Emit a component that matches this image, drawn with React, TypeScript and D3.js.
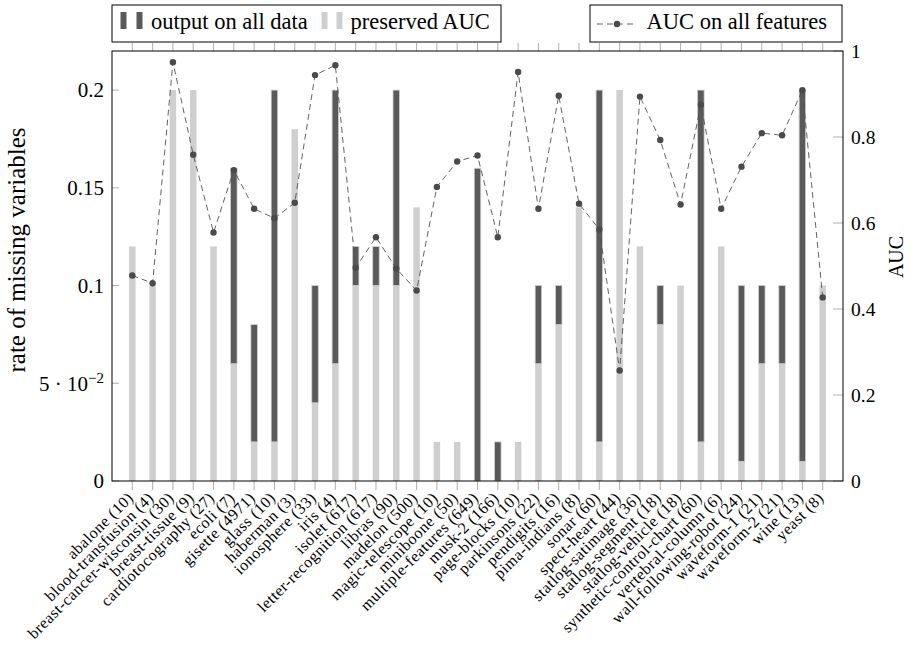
import React, { useEffect, useRef } from 'react';
import * as d3 from 'd3';

// Datasets (number of features in brackets)
const datasets = [
  'abalone (10)', 'blood-transfusion (4)', 'breast-cancer-wisconsin (30)', 'breast-tissue (9)',
  'cardiotocography (27)', 'ecoli (7)', 'gisette (4971)', 'glass (10)', 'haberman (3)',
  'ionosphere (33)', 'iris (4)', 'isolet (617)', 'letter-recognition (617)', 'libras (90)',
  'madelon (500)', 'magic-telescope (10)', 'miniboone (50)', 'multiple-features (649)',
  'musk-2 (166)', 'page-blocks (10)', 'parkinsons (22)', 'pendigits (16)', 'pima-indians (8)',
  'sonar (60)', 'spect-heart (44)', 'statlog-satimage (36)', 'statlog-segment (18)',
  'statlog-vehicle (18)', 'synthetic-control-chart (60)', 'vertebral-column (6)',
  'wall-following-robot (24)', 'waveform-1 (21)', 'waveform-2 (21)', 'wine (13)', 'yeast (8)'
];

// stacked bars: light part first, dark part on top
const preservedAUC = [
  0.12, 0.10, 0.20, 0.20, 0.12, 0.06, 0.02, 0.02, 0.18, 0.04, 0.06, 0.10, 0.10, 0.10,
  0.14, 0.02, 0.02, 0.00, 0.00, 0.02, 0.06, 0.08, 0.14, 0.02, 0.20, 0.12, 0.08, 0.10,
  0.02, 0.12, 0.01, 0.06, 0.06, 0.01, 0.10
];
const outputOnAllData = [
  0.00, 0.00, 0.00, 0.00, 0.00, 0.10, 0.06, 0.18, 0.00, 0.06, 0.14, 0.02, 0.02, 0.10,
  0.00, 0.00, 0.00, 0.16, 0.02, 0.00, 0.04, 0.02, 0.00, 0.18, 0.00, 0.00, 0.02, 0.00,
  0.18, 0.00, 0.09, 0.04, 0.04, 0.19, 0.00
];
const aucAllFeatures = [
  0.478, 0.460, 0.974, 0.759, 0.578, 0.723, 0.633, 0.611, 0.647, 0.944, 0.967, 0.496,
  0.567, 0.494, 0.443, 0.684, 0.743, 0.757, 0.567, 0.951, 0.633, 0.896, 0.645, 0.585,
  0.257, 0.894, 0.793, 0.643, 0.875, 0.633, 0.731, 0.809, 0.804, 0.909, 0.427
];

const leftTicks = [0, 0.05, 0.1, 0.15, 0.2];
const rightTicks = [0, 0.2, 0.4, 0.6, 0.8, 1];

const DARK = '#5a5a5a';
const LIGHT = '#cfcfcf';
const FONT = '"Liberation Serif", "Times New Roman", serif';

const App = () => {
  const svgRef = useRef<SVGSVGElement>(null);

  useEffect(() => {
    document.body.style.margin = '0';
    const svg = d3.select(svgRef.current);
    svg.selectAll('*').remove();

    const left = 112, right = 843, top = 51, bottom = 481;

    const x = d3.scalePoint<string>().domain(datasets).range([left, right]).padding(1);
    const yL = d3.scaleLinear().domain([0, 0.22]).range([bottom, top]);
    const yR = d3.scaleLinear().domain([0, 1]).range([bottom, top]);

    const rows = datasets.map((name, i) => ({
      name, preserved: preservedAUC[i], output: outputOnAllData[i]
    }));
    const stacked = d3.stack<any>().keys(['preserved', 'output'])(rows);

    // bars
    const barW = 6.5;
    stacked.forEach((layer, li) => {
      svg.append('g').selectAll('rect')
        .data(layer.filter(d => d[1] - d[0] > 0))
        .enter().append('rect')
        .attr('x', d => (x(d.data.name) as number) - barW / 2)
        .attr('y', d => yL(d[1]))
        .attr('width', barW)
        .attr('height', d => yL(d[0]) - yL(d[1]))
        .attr('fill', li === 0 ? LIGHT : DARK)
        .attr('stroke', LIGHT)
        .attr('stroke-width', li === 0 ? 0 : 0.8);
    });

    // x ticks, bottom and top
    const ticks = svg.append('g').attr('stroke', '#9a9a9a').attr('stroke-width', 0.8);
    datasets.forEach(n => {
      const xx = x(n) as number;
      ticks.append('line').attr('x1', xx).attr('x2', xx).attr('y1', bottom).attr('y2', bottom + 9);
      ticks.append('line').attr('x1', xx).attr('x2', xx).attr('y1', top).attr('y2', top - 8);
    });

    // y axis ticks
    leftTicks.forEach(t => {
      ticks.append('line').attr('x1', left).attr('x2', left + 7).attr('y1', yL(t)).attr('y2', yL(t));
    });
    rightTicks.forEach(t => {
      ticks.append('line').attr('x1', right - 10).attr('x2', right).attr('y1', yR(t)).attr('y2', yR(t));
    });

    // frame
    svg.append('rect')
      .attr('x', left).attr('y', top)
      .attr('width', right - left).attr('height', bottom - top)
      .attr('fill', 'none').attr('stroke', '#000').attr('stroke-width', 1);

    // AUC line
    const line = d3.line<number>()
      .x((_, i) => x(datasets[i]) as number)
      .y(d => yR(d));
    svg.append('path')
      .datum(aucAllFeatures)
      .attr('d', line)
      .attr('fill', 'none')
      .attr('stroke', '#505050')
      .attr('stroke-width', 0.9)
      .attr('stroke-dasharray', '6,4');
    svg.append('g').selectAll('circle')
      .data(aucAllFeatures)
      .enter().append('circle')
      .attr('cx', (_, i) => x(datasets[i]) as number)
      .attr('cy', d => yR(d))
      .attr('r', 3.2)
      .attr('fill', '#4a4a4a');

    // left tick labels
    const lt = svg.append('g').attr('font-family', FONT).attr('font-size', 21).attr('fill', '#000');
    leftTicks.forEach(t => {
      const txt = lt.append('text')
        .attr('x', 104).attr('y', yL(t)).attr('dy', '0.35em')
        .attr('text-anchor', 'end');
      if (t === 0.05) {
        txt.append('tspan').text('5 · 10');
        txt.append('tspan').attr('dy', -8).attr('font-size', 15).text('−2');
      } else {
        txt.text(String(t));
      }
    });

    // right tick labels
    const rt = svg.append('g').attr('font-family', FONT).attr('font-size', 19.5).attr('fill', '#000');
    rightTicks.forEach(t => {
      rt.append('text')
        .attr('x', 851).attr('y', yR(t)).attr('dy', '0.35em')
        .text(String(t));
    });

    // x labels
    const xl = svg.append('g').attr('font-family', FONT).attr('font-size', 16)
      .attr('letter-spacing', 0.5).attr('fill', '#000');
    datasets.forEach(n => {
      const xx = (x(n) as number) - 2;
      const yy = 495;
      xl.append('text')
        .attr('transform', `translate(${xx},${yy}) rotate(-45)`)
        .attr('text-anchor', 'end')
        .attr('dy', '0.35em')
        .text(n);
    });

    // axis titles
    svg.append('text')
      .attr('transform', 'translate(25,250) rotate(-90)')
      .attr('text-anchor', 'middle')
      .attr('font-family', FONT).attr('font-size', 25)
      .text('rate of missing variables');
    svg.append('text')
      .attr('transform', 'translate(903,257) rotate(-90)')
      .attr('text-anchor', 'middle')
      .attr('font-family', FONT).attr('font-size', 20)
      .text('AUC');

    // legends
    const lg = svg.append('g').attr('font-family', FONT).attr('font-size', 22.5);
    lg.append('rect').attr('x', 112).attr('y', 5).attr('width', 389).attr('height', 37)
      .attr('fill', '#fff').attr('stroke', '#000');
    [120.5, 136.5].forEach(bx => {
      lg.append('rect').attr('x', bx).attr('y', 12).attr('width', 6).attr('height', 17).attr('fill', DARK);
    });
    lg.append('text').attr('x', 151).attr('y', 29).text('output on all data');
    [321.5, 336.5].forEach(bx => {
      lg.append('rect').attr('x', bx).attr('y', 12).attr('width', 6).attr('height', 17).attr('fill', LIGHT);
    });
    lg.append('text').attr('x', 350.5).attr('y', 29).text('preserved AUC');

    lg.append('rect').attr('x', 590).attr('y', 5).attr('width', 252).attr('height', 37)
      .attr('fill', '#fff').attr('stroke', '#000');
    lg.append('line').attr('x1', 597).attr('x2', 635).attr('y1', 24).attr('y2', 24)
      .attr('stroke', '#505050').attr('stroke-width', 0.9).attr('stroke-dasharray', '6,4');
    lg.append('circle').attr('cx', 617).attr('cy', 24).attr('r', 3.2).attr('fill', '#4a4a4a');
    lg.append('text').attr('x', 646.5).attr('y', 29).text('AUC on all features');
  }, []);

  return <svg ref={svgRef} width={911} height={647} style={{ display: 'block' }} />;
};

export default App;
